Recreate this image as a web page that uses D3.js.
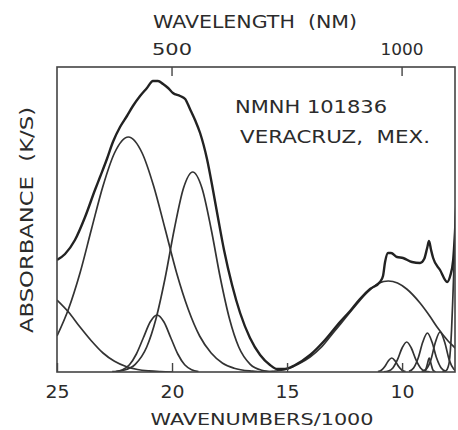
<!DOCTYPE html>
<html><head><meta charset="utf-8">
<script src="https://cdn.jsdelivr.net/npm/d3@7"></script>
<style>
html,body{margin:0;padding:0;background:#fff;}
svg{display:block;}
text{font-family:"DejaVu Sans",sans-serif;fill:#2b2b2b;white-space:pre;}
</style></head><body>
<svg id="chart" width="458" height="430"></svg>
<script>
// ---- data (wavenumber/1000, absorbance K/S arbitrary units) ----
const wavenumberTicks = [25, 20, 15, 10];
const wavelengthTicks = [500, 1000];
const labelLines = ["NMNH 101836", "VERACRUZ,  MEX."];

const spectrum = [
  [25.00,1.12],[24.65,1.18],[24.22,1.32],[23.78,1.55],[23.35,1.82],[23.13,1.95],
  [22.83,2.13],[22.57,2.30],[22.26,2.45],[21.96,2.56],[21.70,2.66],[21.39,2.76],
  [21.09,2.84],[20.83,2.91],[20.61,2.91],[20.39,2.88],[20.17,2.84],[19.96,2.79],
  [19.65,2.76],[19.43,2.73],[19.22,2.63],[19.00,2.52],[18.78,2.39],[18.48,2.13],
  [18.22,1.82],[18.00,1.54],[17.74,1.22],[17.39,0.87],[17.04,0.59],[16.61,0.34],
  [16.17,0.17],[15.74,0.07],[15.43,0.03],[15.09,0.03],[14.65,0.07],[14.00,0.17],
  [13.35,0.32],[12.70,0.50],[12.26,0.61],[11.83,0.73],[11.39,0.83],[10.96,0.90],
  [10.83,0.96],[10.74,1.10],[10.61,1.19],[10.48,1.19],[10.22,1.15],[9.96,1.14],
  [9.57,1.10],[9.22,1.09],[9.04,1.13],[8.91,1.24],[8.83,1.31],[8.74,1.22],
  [8.65,1.14],[8.35,1.02],[8.04,0.90],[7.91,0.96],[7.78,1.12],[7.70,1.40],[7.60,1.90]
];
const bandUV = [
  [25,0.72],[24.5,0.60],[24,0.45],[23.5,0.31],[23,0.19],[22.5,0.107],[22,0.055],
  [21.5,0.025],[21,0.011],[20.5,0.004],[20,0]
];
const band219 = [
  [25,0.36],[24.5,0.63],[24,0.99],[23.5,1.43],[23,1.86],[22.5,2.19],[21.9,2.35],
  [21.3,2.19],[20.8,1.86],[20.3,1.43],[19.8,0.99],[19.3,0.63],[18.8,0.36],
  [18.3,0.19],[17.8,0.088],[17.3,0.038],[16.5,0.008],[16,0]
];
const band191 = [
  [22.6,0.003],[22.1,0.018],[21.6,0.077],[21.1,0.25],[20.7,0.53],[20.3,0.94],
  [19.9,1.43],[19.5,1.84],[19.1,2.0],[18.7,1.84],[18.3,1.43],[17.9,0.94],
  [17.5,0.53],[17.1,0.25],[16.6,0.077],[16.1,0.018],[15.6,0.003]
];
const band206 = [
  [22.45,0.005],[22.15,0.023],[21.85,0.072],[21.55,0.18],[21.25,0.34],[20.95,0.50],
  [20.65,0.57],[20.35,0.50],[20.05,0.34],[19.75,0.18],[19.45,0.072],[19.15,0.023],[18.85,0.005]
];
const bandIR = [
  [16.0,0],[15.5,0.01],[15.0,0.03],[14.5,0.08],[14.0,0.15],[13.5,0.25],[13.0,0.39],
  [12.5,0.53],[12.0,0.67],[11.5,0.80],[11.0,0.89],[10.6,0.91],[10.2,0.89],[9.8,0.83],
  [9.22,0.69],[8.8,0.56],[8.48,0.45],[8.0,0.31],[7.7,0.24],[7.5,0.19]
];
const bandIR104 = [
  [11.05,0.003],[10.9,0.017],[10.75,0.055],[10.6,0.11],[10.45,0.14],[10.3,0.11],
  [10.15,0.055],[10.0,0.017],[9.85,0.003]
];
const bandIR98 = [
  [10.8,0.001],[10.6,0.009],[10.4,0.04],[10.2,0.123],[10.0,0.24],[9.8,0.30],
  [9.6,0.24],[9.4,0.123],[9.2,0.04],[9.0,0.009],[8.8,0.001]
];
const bandIR89 = [
  [9.7,0.007],[9.5,0.04],[9.3,0.14],[9.1,0.30],[8.9,0.39],[8.7,0.30],[8.5,0.14],
  [8.3,0.04],[8.1,0.007]
];
const bandIR88 = [
  [9.1,0],[8.98,0.02],[8.9,0.08],[8.82,0.14],[8.74,0.08],[8.66,0.02],[8.54,0]
];
const bandIR835 = [
  [9.15,0.004],[8.95,0.028],[8.75,0.12],[8.55,0.30],[8.35,0.40],[8.15,0.30],
  [7.95,0.12],[7.75,0.028],[7.6,0.008]
];
const bandEdge = [
  [8.25,0],[8.1,0.01],[8.0,0.05],[7.95,0.10],[7.9,0.22],[7.85,0.42],[7.8,0.70],
  [7.75,1.02],[7.7,1.38],[7.6,2.1]
];
const components = [bandUV, band219, band191, band206, bandIR, bandIR104, bandIR98,
                    bandIR89, bandIR88, bandIR835, bandEdge];

// ---- layout ----
const L = 57, R = 455, T = 67, B = 372;
const svg = d3.select("#chart");
const x = d3.scaleLinear().domain([25, 7.7]).range([L, R]);
const y = d3.scaleLinear().domain([0, 3.05]).range([B, T]);

svg.append("defs").append("clipPath").attr("id", "plotclip")
  .append("rect").attr("x", L).attr("y", T).attr("width", R - L).attr("height", B - T);

const line = d3.line().x(d => x(d[0])).y(d => y(d[1])).curve(d3.curveMonotoneX);
const g = svg.append("g").attr("clip-path", "url(#plotclip)");

g.selectAll("path.comp").data(components).join("path")
  .attr("class", "comp")
  .attr("d", line)
  .attr("fill", "none").attr("stroke", "#333").attr("stroke-width", 1.7)
  .attr("stroke-linejoin", "round");

g.append("path").datum(spectrum).attr("d", line)
  .attr("fill", "none").attr("stroke", "#222").attr("stroke-width", 2.4)
  .attr("stroke-linejoin", "round");

// frame
svg.append("rect").attr("x", L).attr("y", T).attr("width", R - L).attr("height", B - T)
  .attr("fill", "none").attr("stroke", "#444").attr("stroke-width", 1.6);

// bottom axis
const xAxis = d3.axisBottom(x).tickValues(wavenumberTicks).tickSize(-9).tickPadding(14)
  .tickFormat(d3.format("d"));
const gx = svg.append("g").attr("transform", `translate(0,${B})`).call(xAxis);
gx.select(".domain").remove();
gx.selectAll(".tick line").attr("stroke", "#444").attr("stroke-width", 1.4);
gx.selectAll(".tick text").attr("font-size", 17).attr("fill", "#2b2b2b")
  .attr("font-family", '"DejaVu Sans",sans-serif')
  .attr("textLength", 24).attr("lengthAdjust", "spacingAndGlyphs");

// top axis (wavelength in nm -> wavenumber/1000 = 10000/nm)
const gt = svg.append("g");
gt.selectAll("line").data(wavelengthTicks).join("line")
  .attr("x1", d => x(10000 / d)).attr("x2", d => x(10000 / d))
  .attr("y1", T).attr("y2", T + 9).attr("stroke", "#444").attr("stroke-width", 1.4);
gt.selectAll("text").data(wavelengthTicks).join("text")
  .attr("x", d => x(10000 / d)).attr("y", 55).attr("text-anchor", "middle")
  .attr("font-size", 16.5)
  .attr("textLength", d => d >= 1000 ? 43 : 40).attr("lengthAdjust", "spacingAndGlyphs")
  .text(d => d);

// titles
svg.append("text").attr("x", 255).attr("y", 28).attr("text-anchor", "middle")
  .attr("font-size", 17).attr("textLength", 204).attr("lengthAdjust", "spacingAndGlyphs")
  .text("WAVELENGTH  (NM)");
svg.append("text").attr("x", 262).attr("y", 425).attr("text-anchor", "middle")
  .attr("font-size", 16).attr("textLength", 223).attr("lengthAdjust", "spacingAndGlyphs")
  .text("WAVENUMBERS/1000");
svg.append("text").attr("transform", "translate(33,220) rotate(-90)").attr("text-anchor", "middle")
  .attr("font-size", 17).attr("textLength", 226).attr("lengthAdjust", "spacingAndGlyphs")
  .text("ABSORBANCE  (K/S)");

// sample label
svg.append("text").attr("x", 235).attr("y", 113).attr("font-size", 17)
  .attr("textLength", 152).attr("lengthAdjust", "spacingAndGlyphs").text(labelLines[0]);
svg.append("text").attr("x", 240).attr("y", 143).attr("font-size", 17)
  .attr("textLength", 190).attr("lengthAdjust", "spacingAndGlyphs").text(labelLines[1]);
</script>
</body></html>
